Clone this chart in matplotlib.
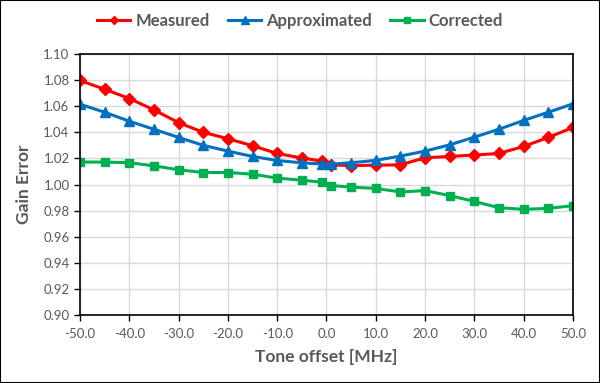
import matplotlib.pyplot as plt
from matplotlib.patches import Rectangle

# Tone offsets in MHz (note the extra points at -1 and +1)
offsets = [-50, -45, -40, -35, -30, -25, -20, -15, -10, -5, -1,
           1, 5, 10, 15, 20, 25, 30, 35, 40, 45, 50]

measured = [1.0797, 1.0730, 1.0659, 1.0572, 1.0474, 1.0400, 1.0351, 1.0297, 1.0238, 1.0203, 1.0180,
            1.0151, 1.0145, 1.0148, 1.0151, 1.0205, 1.0215, 1.0226, 1.0238, 1.0292, 1.0361, 1.0437]
approximated = [1.0615, 1.0554, 1.0485, 1.0423, 1.0361, 1.0300, 1.0256, 1.0215, 1.0184, 1.0166, 1.0157,
                1.0156, 1.0167, 1.0185, 1.0218, 1.0256, 1.0304, 1.0363, 1.0424, 1.0491, 1.0554, 1.0618]
corrected = [1.0172, 1.0172, 1.0167, 1.0143, 1.0113, 1.0092, 1.0092, 1.0079, 1.0049, 1.0033, 1.0018,
             0.9992, 0.9980, 0.9970, 0.9943, 0.9953, 0.9915, 0.9870, 0.9822, 0.9810, 0.9817, 0.9838]

txt = '#595959'
plt.rcParams['font.family'] = ['Lato', 'DejaVu Sans']

fig = plt.figure(figsize=(6, 3.83), dpi=100)
ax = fig.add_axes([0.1333, 0.1775, 0.8217, 0.6815])

ax.plot(offsets, measured, color='#FF0000', lw=2.2, marker='D', ms=6, label='Measured')
ax.plot(offsets, approximated, color='#0070C0', lw=2.2, marker='^', ms=7, label='Approximated')
ax.plot(offsets, corrected, color='#00B050', lw=2.2, marker='s', ms=5.5, label='Corrected')

ax.set_xlim(-50, 50)
ax.set_ylim(0.90, 1.10)
ax.set_xticks(range(-50, 51, 10))
ax.set_xticklabels(['%.1f' % v for v in range(-50, 51, 10)])
ax.set_yticks([0.90 + 0.02 * i for i in range(11)])
ax.set_yticklabels(['%.2f' % (0.90 + 0.02 * i) for i in range(11)])
ax.grid(True, color='#D9D9D9', lw=1)
ax.set_axisbelow(True)
for s in ax.spines.values():
    s.set_color('black')
    s.set_linewidth(1.2)
ax.tick_params(axis='both', colors='black', labelcolor=txt, labelsize=9.5,
               direction='out', length=4, width=1)
ax.tick_params(axis='x', pad=5)

ax.set_xlabel('Tone offset [MHz]', fontsize=12.5, fontweight='bold', color=txt, labelpad=7)
ax.set_ylabel('Gain Error', fontsize=12.5, fontweight='bold', color=txt, labelpad=8)

leg = fig.legend(loc='center', bbox_to_anchor=(0.5, 0.945), ncol=3, frameon=False,
                 fontsize=12, handlelength=2.0, columnspacing=1.1, handletextpad=0.3,
                 markerscale=0.75)
for t in leg.get_texts():
    t.set_color(txt)
    t.set_fontweight('bold')

fig.patches.append(Rectangle((0, 0), 1, 1, transform=fig.transFigure, fill=False,
                             edgecolor='black', lw=1.5))

fig.savefig('out.png', dpi=100)
